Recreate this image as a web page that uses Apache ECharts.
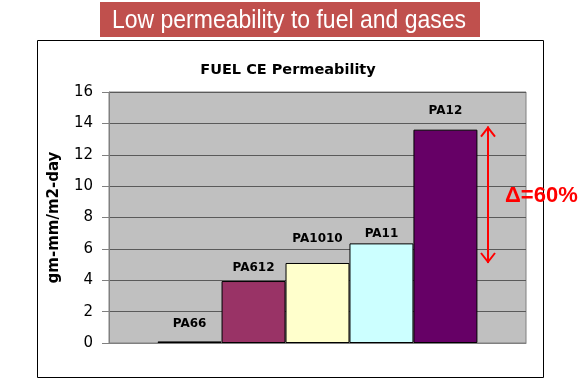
<!DOCTYPE html>
<html>
<head>
<meta charset="utf-8">
<script src="https://cdn.jsdelivr.net/npm/echarts@6/dist/echarts.min.js"></script>
<style>
html,body{margin:0;padding:0;background:#fff;}
#c{width:587px;height:388px;}
</style>
</head>
<body>
<div id="c"></div>
<script>
const headline = 'Low permeability to fuel and gases';
const chartTitle = 'FUEL CE Permeability';
const yAxisName = 'gm-mm/m2-day';
const categories = ['FUEL CE'];
const seriesNames = ['PA66', 'PA612', 'PA1010', 'PA11', 'PA12'];
const values = [0.1, 3.95, 5.1, 6.35, 13.6];
const yMin = 0, yMax = 16, yStep = 2;
const deltaLabel = 'Δ=60%';
const arrowFrom = 13.8, arrowTo = 5.1;

const colors = ['#000000', '#993366', '#FFFFCC', '#CCFFFF', '#660066'];
const labelDistances = [12, 7, 18, 4, 13];
const font = '"DejaVu Sans", sans-serif';

const chart = echarts.init(document.getElementById('c'));
const gridL = 109, gridR = 61, gridT = 92, gridB = 45;

const series = seriesNames.map((name, i) => ({
  name: name,
  type: 'bar',
  data: [values[i]],
  barGap: '0%',
  barCategoryGap: '23.3%',
  itemStyle: { color: colors[i], borderColor: '#000', borderWidth: 1 },
  label: {
    show: true, position: 'top', distance: labelDistances[i],
    formatter: '{a}', color: '#000', fontFamily: font, fontSize: 12, fontWeight: 'bold'
  },
  animation: false
}));

chart.setOption({
  animation: false,
  grid: { left: gridL, right: gridR, top: gridT, bottom: gridB, show: true, backgroundColor: '#C0C0C0', borderColor: '#808080', borderWidth: 1 },
  xAxis: {
    type: 'category', data: categories,
    axisLabel: { show: false }, axisTick: { show: false },
    axisLine: { lineStyle: { color: '#808080' } }
  },
  yAxis: {
    type: 'value', min: yMin, max: yMax, interval: yStep,
    name: yAxisName, nameLocation: 'middle', nameGap: 47, nameRotate: 90,
    nameTextStyle: { fontFamily: font, fontSize: 15, fontWeight: 'bold', color: '#000' },
    axisLine: { show: true, lineStyle: { color: '#808080' } },
    axisTick: { show: true, length: 7, lineStyle: { color: '#808080' } },
    axisLabel: { fontFamily: font, fontSize: 15, color: '#000', margin: 16 },
    splitLine: { lineStyle: { color: '#5a5a5a', width: 1 } }
  },
  series: series
});

const yTop = chart.convertToPixel({ yAxisIndex: 0 }, arrowFrom);
const yBot = chart.convertToPixel({ yAxisIndex: 0 }, arrowTo);
const ax = 587 - gridR - 38;
const red = '#FF0000';

chart.setOption({
  graphic: [
    { type: 'rect', shape: { x: 37.5, y: 40.5, width: 506, height: 337 }, style: { fill: null, stroke: '#000', lineWidth: 1 }, z: 100 },
    { type: 'rect', shape: { x: 100, y: 2, width: 380, height: 35 }, style: { fill: '#C0504D' }, z: 100 },
    { type: 'text', x: 289, y: 21.5, scaleX: 0.92, style: { text: headline, x: 0, y: 0, textAlign: 'center', textVerticalAlign: 'middle', font: '25px "Liberation Sans", Arial, sans-serif', fill: '#fff' }, z: 101 },
    { type: 'text', style: { text: chartTitle, x: 288, y: 70, textAlign: 'center', textVerticalAlign: 'middle', font: 'bold 14.5px "DejaVu Sans", sans-serif', fill: '#000' }, z: 101 },
    { type: 'line', shape: { x1: ax, y1: yTop, x2: ax, y2: yBot }, style: { stroke: red, lineWidth: 2 }, z: 101 },
    { type: 'polyline', shape: { points: [[ax - 7, yTop + 10], [ax, yTop + 1], [ax + 7, yTop + 10]] }, style: { stroke: red, lineWidth: 2, fill: null }, z: 101 },
    { type: 'polyline', shape: { points: [[ax - 7, yBot - 10], [ax, yBot - 1], [ax + 7, yBot - 10]] }, style: { stroke: red, lineWidth: 2, fill: null }, z: 101 },
    { type: 'text', style: { text: deltaLabel, x: 505, y: 196, textAlign: 'left', textVerticalAlign: 'middle', font: 'bold 22px "Liberation Sans", Arial, sans-serif', fill: red }, z: 102 }
  ]
});
</script>
</body>
</html>
